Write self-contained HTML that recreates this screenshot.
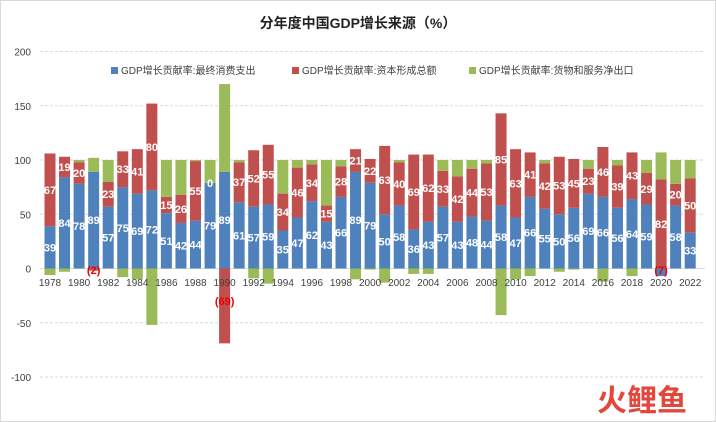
<!DOCTYPE html>
<html><head><meta charset="utf-8"><style>
body{margin:0;background:#fff}
svg{display:block;font-family:"Liberation Sans","Noto Sans CJK SC",sans-serif}
</style></head><body>
<svg id="s" width="716" height="422" viewBox="0 0 716 422">
<rect x="0.5" y="0.5" width="715" height="421" fill="#fff" stroke="#d9d9d9"/>
<text x="358" y="28" text-anchor="middle" font-size="14" font-weight="bold" fill="#222">分年度中国GDP增长来源（%）</text>
<rect x="111" y="67" width="7" height="7" fill="#4f81bd"/><text x="121" y="74" font-size="10" fill="#404040">GDP增长贡献率:最终消费支出</text>
<rect x="292" y="67" width="7" height="7" fill="#c0504d"/><text x="302" y="74" font-size="10" fill="#404040">GDP增长贡献率:资本形成总额</text>
<rect x="469" y="67" width="7" height="7" fill="#9bbb59"/><text x="479" y="74" font-size="10" fill="#404040">GDP增长贡献率:货物和服务净出口</text>
<g id="grid"></g><g id="bars"></g><g id="lab"></g>
<text x="597" y="411" font-size="30" font-weight="bold" fill="#e0261b" opacity="0.85">火鲤鱼</text>
</svg>
<script>
var d=[[39,67,-6],[84,19,-3],[78,20,2],[89,-2,13],[57,23,20],[75,33,-8],[69,41,-10],[72,80,-52],[51,15,34],[42,26,32],[44,55,1],[79,0,21],[89,-69,81],[61,37,2],[57,52,-9],[59,55,-14],[35,34,31],[47,46,7],[62,34,4],[43,15,42],[66,28,6],[89,21,-10],[79,22,-1],[50,63,-13],[58,40,2],[36,69,-5],[43,62,-5],[57,33,10],[43,42,15],[48,44,8],[44,53,3],[58,85,-43],[47,63,-10],[66,41,-7],[55,42,3],[50,53,-3],[56,45,-1],[69,23,8],[66,46,-12],[56,39,5],[64,43,-7],[59,29,12],[-7,82,25],[58,20,22],[33,50,17]];
var y0=268.5,k=1.085,c=["#4f81bd","#c0504d","#9bbb59"],ns="http://www.w3.org/2000/svg";
function el(g,t,a,tx){var e=document.createElementNS(ns,t);for(var i in a)e.setAttribute(i,a[i]);if(tx!=null)e.textContent=tx;document.getElementById(g).appendChild(e);}
for(var v=-100;v<=200;v+=50){var y=y0-v*k;if(v!=0)el("grid","line",{x1:40,x2:705,y1:y,y2:y,stroke:"#d9d9d9","stroke-dasharray":"3,2"});el("grid","text",{x:31,y:y+4,"font-size":10,fill:"#404040","text-anchor":"end"},v);}
el("grid","line",{x1:40,x2:705,y1:y0,y2:y0,stroke:"#d9d9d9"});
d.forEach(function(r,i){var x=50+i*14.55,p=0,n=0;
for(var j=0;j<3;j++){var v=r[j],top,h;if(v>=0){top=y0-(p+v)*k;h=v*k;p+=v}else{top=y0+n*k;h=-v*k;n-=v}
el("bars","rect",{x:x-5.5,y:top,width:11,height:h,fill:c[j]});
if(j<2){if(v>=0){el("lab","text",{x:x,y:top+h/2+4,"font-size":11,"font-weight":"bold",fill:"#fff","text-anchor":"middle"},v);}
else{var ly=(v<-20)?305:274;el("lab","text",{x:x,y:ly,"font-size":11,"font-weight":"bold",fill:"#e00","text-anchor":"middle"},"("+(-v)+")");}}}
if(i%2==0)el("lab","text",{x:x,y:286,"font-size":10,fill:"#404040","text-anchor":"middle"},1978+i);});
</script>
</body></html>
